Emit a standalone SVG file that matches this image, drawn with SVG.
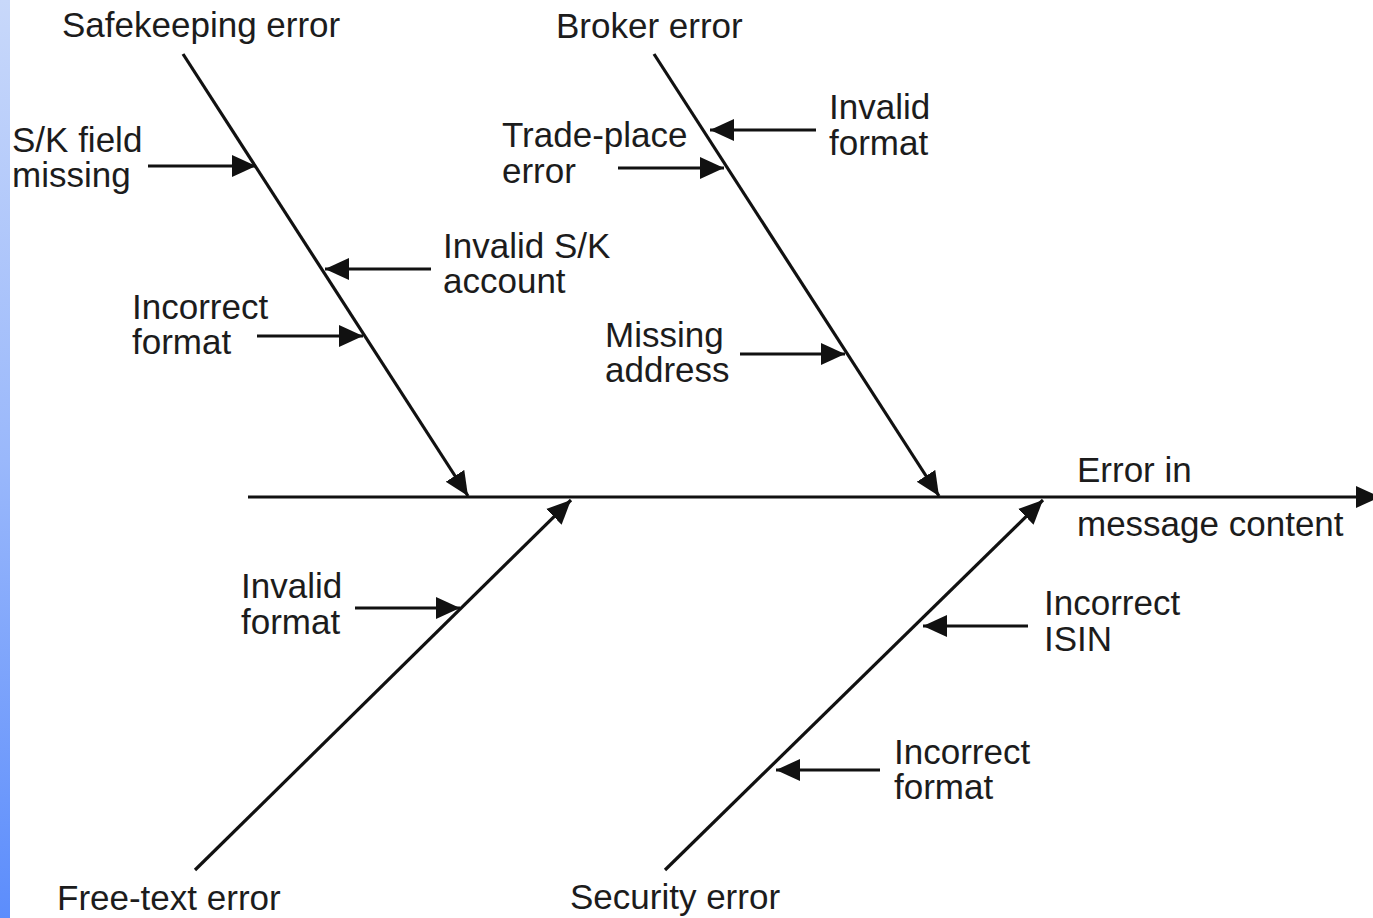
<svg xmlns="http://www.w3.org/2000/svg" width="1373" height="918" viewBox="0 0 1373 918">
  <defs>
    <linearGradient id="edge" x1="0" y1="0" x2="0" y2="1">
      <stop offset="0" stop-color="#c8d8fa"/>
      <stop offset="0.5" stop-color="#9ab8fb"/>
      <stop offset="1" stop-color="#5c8dfc"/>
    </linearGradient>
    <marker id="head" markerUnits="userSpaceOnUse" markerWidth="26" markerHeight="24" refX="24" refY="12" orient="auto" viewBox="0 0 26 24">
      <path d="M0,1 L24,12 L0,23 Z" fill="#111"/>
    </marker>
  </defs>
  <style>
    .lbl { font-family: "Liberation Sans", Arial, Helvetica, sans-serif; font-size: 35px; fill: #1c1c1c; }
    .bone { stroke: #111; stroke-width: 3.2; fill: none; }
    .cause { stroke: #111; stroke-width: 3.2; fill: none; marker-end: url(#head); }
  </style>

  <rect x="0" y="0" width="1373" height="918" fill="#ffffff"/>
  <rect x="0" y="0" width="10" height="918" fill="url(#edge)"/>

  <g id="connectors">
    <!-- spine -->
    <line class="cause" x1="248" y1="497" x2="1380" y2="497"/>
    <!-- main bones -->
    <line class="cause" x1="183" y1="54" x2="468" y2="496"/>
    <line class="cause" x1="654" y1="54" x2="939" y2="496"/>
    <line class="cause" x1="195" y1="870" x2="571" y2="500"/>
    <line class="cause" x1="665" y1="870" x2="1043" y2="500"/>
    <!-- safekeeping causes -->
    <line class="cause" x1="148" y1="166" x2="256" y2="166"/>
    <line class="cause" x1="431" y1="269" x2="325" y2="269"/>
    <line class="cause" x1="257" y1="336" x2="363" y2="336"/>
    <!-- broker causes -->
    <line class="cause" x1="816" y1="130" x2="710" y2="130"/>
    <line class="cause" x1="618" y1="168" x2="724" y2="168"/>
    <line class="cause" x1="740" y1="354" x2="845" y2="354"/>
    <!-- free-text cause -->
    <line class="cause" x1="355" y1="608" x2="460" y2="608"/>
    <!-- security causes -->
    <line class="cause" x1="1028" y1="626" x2="923" y2="626"/>
    <line class="cause" x1="880" y1="770" x2="776" y2="770"/>
  </g>

  <g id="effect">
    <text class="lbl" x="1077" y="482">Error in</text>
    <text class="lbl" x="1077" y="536">message content</text>
  </g>

  <g id="safekeeping">
    <text class="lbl" x="62" y="37">Safekeeping error</text>
    <text class="lbl" x="12" y="152">S/K field</text>
    <text class="lbl" x="12" y="187">missing</text>
    <text class="lbl" x="443" y="258">Invalid S/K</text>
    <text class="lbl" x="443" y="293">account</text>
    <text class="lbl" x="132" y="319">Incorrect</text>
    <text class="lbl" x="132" y="354">format</text>
  </g>

  <g id="broker">
    <text class="lbl" x="556" y="38">Broker error</text>
    <text class="lbl" x="829" y="119">Invalid</text>
    <text class="lbl" x="829" y="155">format</text>
    <text class="lbl" x="502" y="147">Trade-place</text>
    <text class="lbl" x="502" y="183">error</text>
    <text class="lbl" x="605" y="347">Missing</text>
    <text class="lbl" x="605" y="382">address</text>
  </g>

  <g id="free-text">
    <text class="lbl" x="241" y="598">Invalid</text>
    <text class="lbl" x="241" y="634">format</text>
    <text class="lbl" x="57" y="910">Free-text error</text>
  </g>

  <g id="security">
    <text class="lbl" x="1044" y="615">Incorrect</text>
    <text class="lbl" x="1044" y="651">ISIN</text>
    <text class="lbl" x="894" y="764">Incorrect</text>
    <text class="lbl" x="894" y="799">format</text>
    <text class="lbl" x="570" y="909">Security error</text>
  </g>
</svg>
